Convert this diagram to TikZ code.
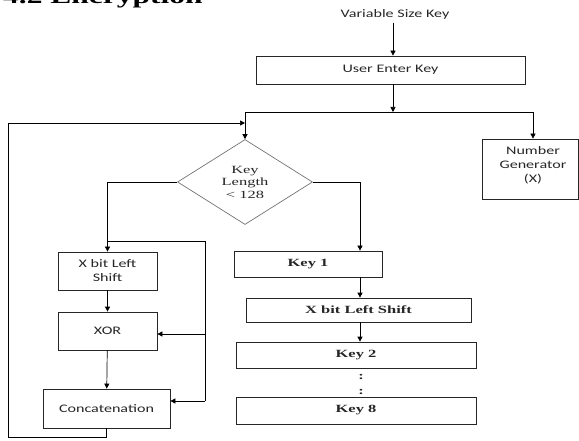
\documentclass[tikz,border=0pt]{standalone}
\usepackage{fontspec}
\newfontfamily\calfont{Carlito}[FakeStretch=1.4]
\newfontfamily\camfont{Liberation Serif}[FakeStretch=1.5]
\usetikzlibrary{arrows.meta}
\usetikzlibrary{shapes.geometric}

\begin{document}
\begin{tikzpicture}[x=1pt,y=-1pt,line width=0.7pt,>={Triangle[length=5pt,width=5pt]},
    box/.style={draw=black!85,rectangle,inner sep=0pt,align=center},
    sans/.style={font=\calfont\fontsize{11.5}{14}\selectfont,text=black!85},
    serif/.style={font=\camfont\fontsize{11}{12.5}\selectfont,text=black!85},
    keytext/.style={font=\camfont\bfseries\fontsize{11}{12.5}\selectfont,text=black!85}]
    \useasboundingbox (0,0) rectangle (579,441);
    \clip (0,0) rectangle (579,441);
    \node[anchor=base east,inner sep=0pt,font=\camfont\bfseries\fontsize{21}{24}\selectfont] (title) at (203,4) {4.2 Encryption};
    \node[sans] (varkey) at (395,14) {Variable Size Key};
    \node[box,sans,minimum width=269pt,minimum height=28pt] (user) at (390.5,70) {User Enter Key};
    \node[box,sans,minimum width=96pt,minimum height=60pt] (numgen) at (530,169) {};
    \node[sans,align=center] (numtext) at (533,165) {Number\\Generator\\(X)};
    \node[draw=black!55,diamond,serif,inner sep=0pt,align=center,minimum width=135pt,minimum height=85pt] (len) at (245,182) {Key\\Length\\< 128};
    % left side
    \node[box,sans,minimum width=99pt,minimum height=38pt] (lshift) at (107.5,271) {X bit Left\\Shift};
    \node[box,sans,minimum width=99pt,minimum height=38pt] (xor) at (107.5,331) {XOR};
    \node[box,sans,minimum width=127pt,minimum height=39pt] (concat) at (106.5,408.5) {Concatenation};
    % right side
    \node[box,keytext,minimum width=148pt,minimum height=26pt] (key1) at (308,264) {Key 1};
    \node[box,keytext,minimum width=225pt,minimum height=24pt] (rshift) at (358.5,310) {X bit Left Shift};
    \node[box,keytext,minimum width=240pt,minimum height=26pt] (key2) at (356,355) {Key 2};
    \node[keytext] (dot1) at (361,377) {:};
    \node[keytext] (dot2) at (361,392) {:};
    \node[box,keytext,minimum width=240pt,minimum height=27pt] (key8) at (356,410.5) {Key 8};

    \coordinate (spl) at (393,112);
    \coordinate (nl) at (245,112);
    \coordinate (nr) at (533,112);
    \coordinate (back) at (245,123);
    \coordinate (byp) at (205,241);
    \coordinate (bxor) at (205,334);
    \coordinate (bcat) at (205,401);
    \coordinate (rk) at (360,182);

    \draw[->] (varkey.south -| spl) -- (spl |- user.north);
    \draw[->] (spl |- user.south) -- (spl);
    \draw (nl) -- (nr);
    \draw[->] (nr) -- (nr |- numgen.north);
    \draw[->] (nl) -- (len.north);
    \draw[->] (len.west) -| (lshift.north);
    \draw (lshift.north |- byp) -- (byp) -- (bcat);
    \draw[->] (bxor) -- (bxor -| xor.east);
    \draw[->] (bcat) -- (bcat -| concat.east);
    \draw[->] (lshift) -- (xor);
    \draw[->] (xor) -- (concat);
    \draw[->] (concat.south) -- ++(0,9) -| (8,123) -- (back);
    \draw[->] (len.east) -| (rk |- key1.north);
    \draw[->] (rk |- key1.south) -- (rk |- rshift.north);
    \draw[->] (rk |- rshift.south) -- (rk |- key2.north);
\end{tikzpicture}
\end{document}
